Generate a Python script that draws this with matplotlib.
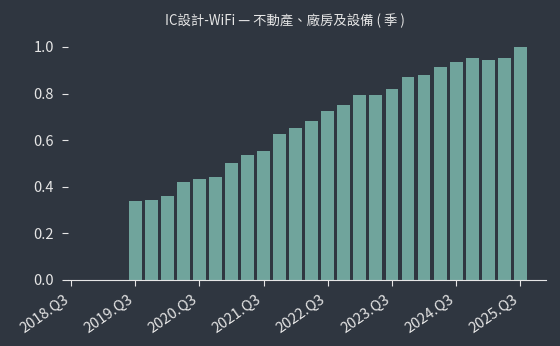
import matplotlib
matplotlib.use("Agg")
import matplotlib.pyplot as plt

plt.rcParams['font.family'] = ['Noto Sans CJK TC', 'DejaVu Sans']

title = "IC設計-WiFi — 不動產、廠房及設備 ( 季 )"

# quarters with data, 2019.Q3 .. 2025.Q3
quarters = []
for y in range(2019, 2026):
    for q in range(1, 5):
        if (y == 2019 and q < 3) or (y == 2025 and q > 3):
            continue
        quarters.append(f"{y}.Q{q}")

values = [0.339, 0.343, 0.360, 0.420, 0.433, 0.442, 0.502, 0.536, 0.554,
          0.626, 0.654, 0.682, 0.725, 0.751, 0.794, 0.794, 0.820, 0.871,
          0.880, 0.914, 0.936, 0.953, 0.944, 0.953, 1.000]

tick_labels = [f"{y}.Q3" for y in range(2018, 2026)]

bg = "#2f3640"
bar_color = "#70a49c"
fg = "#e6e6e6"


def qidx(label):
    # quarter index counted from 2018.Q3
    y, q = label.split(".Q")
    return (int(y) - 2018) * 4 + int(q) - 3


fig = plt.figure(figsize=(5.6, 3.46), dpi=100, facecolor=bg)
ax = fig.add_axes([0.121, 0.191, 0.854, 0.707], facecolor=bg)

x = [qidx(q) for q in quarters]
ax.bar(x, values, width=0.8, color=bar_color)

ax.set_xlim(-0.2, 29.6)
ax.set_ylim(0, 1.05)
ax.set_xticks([qidx(t) for t in tick_labels])
ax.set_xticklabels(tick_labels, rotation=35, ha="right")
ax.set_yticks([0, 0.2, 0.4, 0.6, 0.8, 1.0])
ax.set_yticklabels([f"{v:.1f}" for v in [0, 0.2, 0.4, 0.6, 0.8, 1.0]])

for s in ["top", "right", "left"]:
    ax.spines[s].set_visible(False)
ax.spines["bottom"].set_color(fg)
ax.tick_params(axis="both", colors=fg, labelsize=10.5)
ax.tick_params(axis="y", length=4, pad=6)
ax.tick_params(axis="x", length=4, pad=5)

fig.text(0.509, 0.94, title, color=fg, fontsize=9.6, ha="center", va="center")

fig.savefig("out.png", dpi=100, facecolor=bg)
